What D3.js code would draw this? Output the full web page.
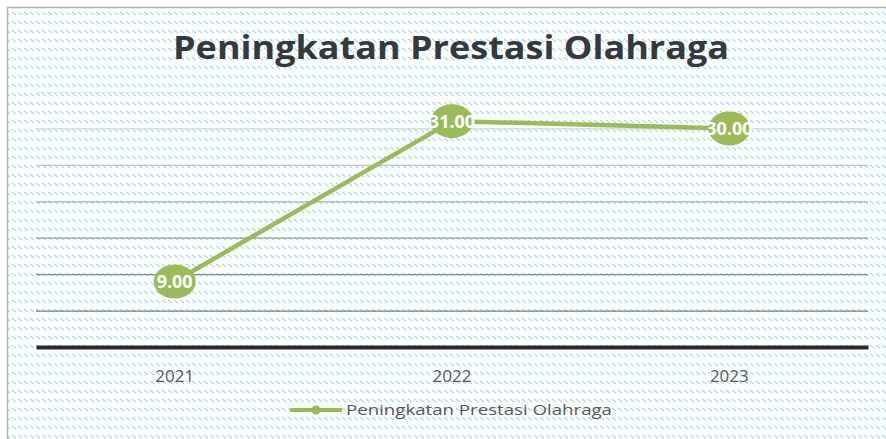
<!DOCTYPE html>
<html>
<head>
<meta charset="utf-8">
<script src="https://cdn.jsdelivr.net/npm/d3@7"></script>
<style>
  body { margin: 0; background: #fff; }
  svg { display: block; }
</style>
</head>
<body>
<div class="svg_container"></div>
<script>
// data
var years = ["2021", "2022", "2023"];
var values = [9, 31, 30];
var valueLabels = ["9.00", "31.00", "30.00"];
var yTicks = [0, 5, 10, 15, 20, 25, 30, 35];
var seriesName = "Peningkatan Prestasi Olahraga";

var W = 886, H = 439;
var margin = { top: 92, right: 18, bottom: 92, left: 36 },
  width = W - margin.left - margin.right,
  height = 347 - margin.top;

var svg = d3.select(".svg_container").append("svg")
  .attr("width", W)
  .attr("height", H);

// hatch pattern background
var defs = svg.append("defs");
var pat = defs.append("pattern")
  .attr("id", "hatch")
  .attr("patternUnits", "userSpaceOnUse")
  .attr("width", 6)
  .attr("height", 9);
pat.append("line")
  .attr("x1", 0).attr("y1", 3).attr("x2", 4).attr("y2", 6)
  .attr("stroke", "#98c6d2")
  .attr("stroke-width", 1);

svg.append("rect")
  .attr("x", 7).attr("y", 7)
  .attr("width", W - 7).attr("height", H - 7)
  .attr("fill", "#fbfeff");
svg.append("rect")
  .attr("x", 7).attr("y", 7)
  .attr("width", W - 7).attr("height", H - 7)
  .attr("fill", "url(#hatch)");
svg.append("path")
  .attr("d", "M7.5," + H + "V7.5H" + W)
  .attr("fill", "none")
  .attr("stroke", "#b5b5b5")
  .attr("stroke-width", 1.5);

// title
svg.append("text")
  .attr("x", 451)
  .attr("y", 59)
  .attr("text-anchor", "middle")
  .attr("font-family", "'Open Sans', sans-serif")
  .attr("font-weight", "bold")
  .attr("font-size", 33)
  .attr("fill", "#333a3f")
  .attr("textLength", 556)
  .attr("lengthAdjust", "spacingAndGlyphs")
  .text("Peningkatan Prestasi Olahraga");

var g = svg.append("g")
  .attr("transform", "translate(" + margin.left + "," + margin.top + ")");

var x = d3.scaleBand().domain(years).range([0, width]);
var y = d3.scaleLinear().domain([0, 35]).range([height, 0]);

// gridlines (lighter toward top)
var shade = d3.scaleLinear().domain([5, 35]).range(["#6f7f86", "#e2e6e8"]);
g.selectAll(".grid")
  .data(yTicks.filter(function(d) { return d > 0; }))
  .enter().append("line")
  .attr("class", "grid")
  .attr("x1", 0).attr("x2", width)
  .attr("y1", function(d) { return y(d) + 0.5; })
  .attr("y2", function(d) { return y(d) + 0.5; })
  .attr("stroke", function(d) { return shade(d); })
  .attr("stroke-width", 1.2);

// x axis
var xAxis = g.append("g")
  .attr("transform", "translate(0," + height + ")")
  .call(d3.axisBottom(x).tickSize(0).tickPadding(23));
xAxis.select(".domain")
  .attr("stroke", "#2b2b2b")
  .attr("stroke-width", 4);
xAxis.selectAll("text")
  .attr("font-family", "'Open Sans', sans-serif")
  .attr("font-size", 17)
  .attr("fill", "#595959");

var cx = function(d, i) { return x(years[i]) + x.bandwidth() / 2; };

// line
var line = d3.line()
  .x(function(d, i) { return cx(d, i); })
  .y(function(d) { return y(d); });

g.append("path")
  .datum(values)
  .attr("fill", "none")
  .attr("stroke", "#9bbb59")
  .attr("stroke-width", 4.5)
  .attr("d", line);

// markers
g.selectAll(".dot")
  .data(values)
  .enter().append("ellipse")
  .attr("class", "dot")
  .attr("cx", cx)
  .attr("cy", function(d) { return y(d); })
  .attr("rx", 21)
  .attr("ry", 17)
  .attr("fill", "#9bbb59");

// data labels
g.selectAll(".lbl")
  .data(values)
  .enter().append("text")
  .attr("class", "lbl")
  .attr("x", cx)
  .attr("y", function(d) { return y(d) + 7; })
  .attr("text-anchor", "middle")
  .attr("font-family", "'Open Sans', sans-serif")
  .attr("font-weight", "bold")
  .attr("font-size", 18)
  .attr("fill", "#ffffff")
  .text(function(d, i) { return valueLabels[i]; });

// legend
var lg = svg.append("g").attr("transform", "translate(290,410)");
lg.append("line")
  .attr("x1", 0).attr("x2", 52)
  .attr("y1", 0).attr("y2", 0)
  .attr("stroke", "#9bbb59")
  .attr("stroke-width", 4);
lg.append("circle")
  .attr("cx", 26).attr("cy", 0).attr("r", 4.5)
  .attr("fill", "#9bbb59");
lg.append("text")
  .attr("x", 56)
  .attr("y", 5)
  .attr("font-family", "'Open Sans', sans-serif")
  .attr("font-size", 15)
  .attr("fill", "#595959")
  .attr("textLength", 266)
  .attr("lengthAdjust", "spacingAndGlyphs")
  .text(seriesName);
</script>
</body>
</html>
